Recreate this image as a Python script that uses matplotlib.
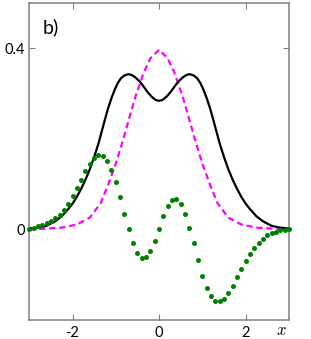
"""Panel b): two density curves and a sampled difference curve."""
import matplotlib
matplotlib.use("Agg")
import matplotlib.pyplot as plt
import numpy as np

plt.rcParams["font.family"] = ["Lato", "DejaVu Sans"]
plt.rcParams["mathtext.fontset"] = "cm"

# solid black curve
black_x = [-3.0, -2.8, -2.6, -2.4, -2.25, -2.1, -2.0, -1.9, -1.8, -1.7, -1.6, -1.5, -1.4, -1.25, -1.18,
           -1.1, -1.02, -0.95, -0.88, -0.8, -0.71, -0.63, -0.55, -0.45, -0.36, -0.27, -0.17, -0.08, 0.0,
           0.08, 0.17, 0.27, 0.36, 0.45, 0.55, 0.63, 0.71, 0.8, 0.88, 0.95, 1.02, 1.1, 1.18, 1.25,
           1.4, 1.5, 1.6, 1.7, 1.8, 1.9, 2.0, 2.1, 2.25, 2.4, 2.6, 2.8, 3.0]
black_y = [0.002, 0.004, 0.008, 0.018, 0.029, 0.045, 0.057, 0.072, 0.09, 0.11, 0.133, 0.16, 0.19, 0.243,
           0.267, 0.29, 0.31, 0.324, 0.334, 0.34, 0.343, 0.341, 0.336, 0.327, 0.316, 0.304, 0.293, 0.286,
           0.284, 0.286, 0.293, 0.304, 0.316, 0.327, 0.336, 0.341, 0.343, 0.34, 0.334, 0.324, 0.31, 0.29,
           0.267, 0.243, 0.19, 0.16, 0.133, 0.11, 0.09, 0.072, 0.057, 0.045, 0.029, 0.018, 0.008, 0.004,
           0.002]

# dashed magenta curve
mag_x = [-3.0, -2.7, -2.25, -1.9, -1.6, -1.35, -1.18, -1.0, -0.85, -0.7, -0.55, -0.36, -0.2, 0.0,
         0.2, 0.36, 0.55, 0.7, 0.85, 1.0, 1.18, 1.35, 1.6, 1.9, 2.25, 2.7, 3.0]
mag_y = [0.0, 0.0015, 0.004, 0.011, 0.026, 0.058, 0.098, 0.145, 0.192, 0.242, 0.292, 0.345, 0.378, 0.397,
         0.378, 0.345, 0.292, 0.242, 0.192, 0.145, 0.098, 0.058, 0.026, 0.011, 0.004, 0.0015, 0.0]

# green dotted samples, x = -3.0 ... 3.0 in steps of 0.1
dot_x = np.linspace(-3, 3, 61)
dot_y = [0.002, 0.004, 0.007, 0.010, 0.014, 0.019, 0.025, 0.033, 0.044, 0.057,
         0.074, 0.091, 0.110, 0.129, 0.145, 0.157, 0.165, 0.163, 0.151, 0.132,
         0.105, 0.071, 0.035, 0.000, -0.031, -0.053, -0.063, -0.061, -0.047, -0.026,
         0.002, 0.029, 0.051, 0.065, 0.067, 0.056, 0.035, 0.004, -0.031, -0.067,
         -0.102, -0.129, -0.148, -0.159, -0.159, -0.153, -0.141, -0.125, -0.106, -0.088,
         -0.069, -0.054, -0.040, -0.029, -0.020, -0.013, -0.008, -0.005, -0.002, -0.001,
         0.000]

xticks = [-2, 0, 2]
yticks = [0, 0.4]
ytick_labels = ["0", "0.4"]

fig = plt.figure(figsize=(3.11, 3.39), dpi=100)
ax = fig.add_axes([0.094, 0.056, 0.835, 0.935])

ax.plot(black_x, black_y, color="black", lw=1.6, zorder=3)
ax.plot(mag_x, mag_y, color="#ff00ff", lw=1.6, linestyle=(0, (2.8, 1.7)), zorder=2)
ax.plot(dot_x, dot_y, linestyle="none", marker="o", ms=3.6, mec="none", color="#008000",
        zorder=4, clip_on=False)

ax.set_xlim(-3, 3)
ax.set_ylim(-0.2, 0.5)
ax.set_xticks(xticks)
ax.set_xticklabels([str(t) for t in xticks])
ax.set_yticks(yticks)
ax.set_yticklabels(ytick_labels)
ax.tick_params(direction="in", length=4, width=0.8, color="#808080", labelsize=10.5,
               top=True, right=True, pad=4)
ax.tick_params(axis="y", pad=3)
for s in ax.spines.values():
    s.set_color("#808080")
    s.set_linewidth(1.1)

ax.text(0.05, 0.924, "b)", transform=ax.transAxes, fontsize=14, ha="left", va="center")
fig.text(0.906, 0.026, "$x$", fontsize=12, ha="center", va="center")

fig.savefig("out.png", dpi=100)
